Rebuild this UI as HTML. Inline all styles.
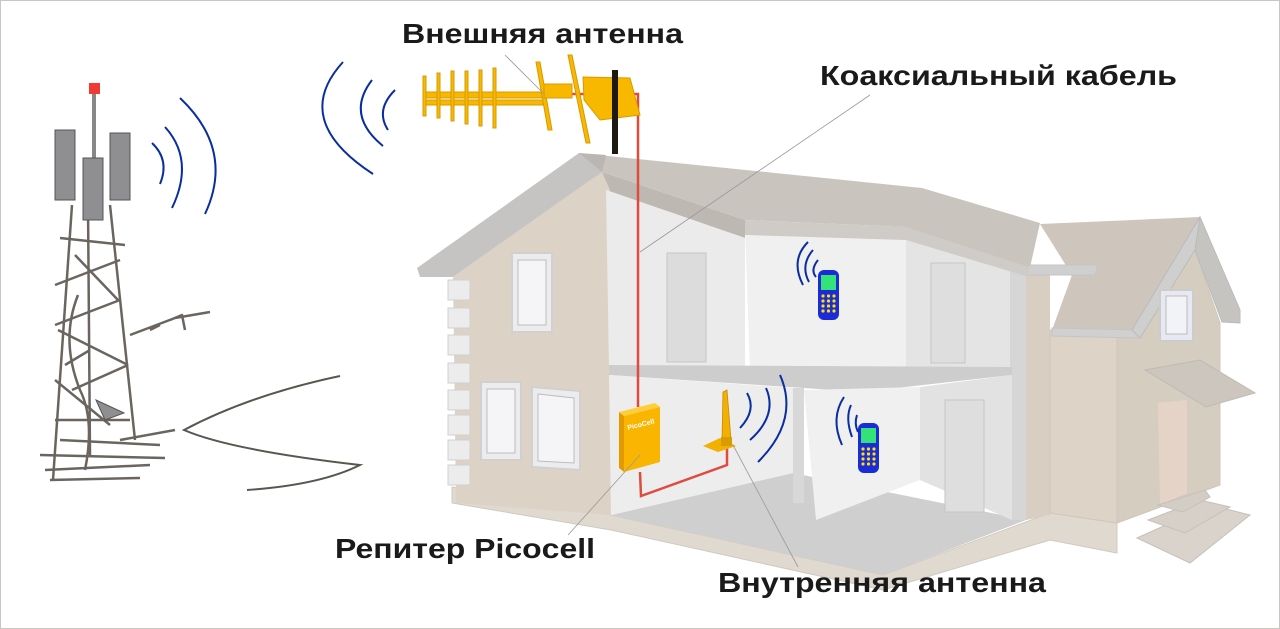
<!DOCTYPE html>
<html><head><meta charset="utf-8"><style>
html,body{margin:0;padding:0;background:#fff}
svg{display:block}
text{font-family:"Liberation Sans",Arial,sans-serif;font-weight:bold;fill:#1a1a1a}
</style></head><body>
<svg width="1280" height="629" viewBox="0 0 1280 629" xmlns="http://www.w3.org/2000/svg">
<rect x="0.5" y="0.5" width="1279" height="628" fill="#fff" stroke="#c8c8c0"/>

<!-- foundation / ground -->
<polygon points="452,487 611,515 883,575 1050,513 1117,523 1117,553 1050,540 883,590 611,530 452,503" fill="#e0d9d0" stroke="#d0c9c0"/>
<!-- floor interior -->
<polygon points="611,515 793,473 1026,520 883,575" fill="#cfcfcf"/>

<!-- main roof -->
<polygon points="579,153 922,188 1040,223 1029,272 906,227 745,220 602,172" fill="#c9c4be"/>
<polygon points="579,153 602,172 745,220 745,238 606,190 579,166" fill="#bdb8b2"/>

<!-- right wing -->
<polygon points="1026,268 1050,268 1050,515 1026,520" fill="#d8cfc2"/>
<polygon points="1050,330 1117,337 1117,523 1050,513" fill="#ddd3c6" stroke="#cfc7bb"/>
<polygon points="1117,337 1140,330 1195,250 1220,323 1220,485 1117,523" fill="#d6cdc1" stroke="#cfc7bb"/>
<polygon points="1040,224 1200,217 1138,337 1052,330 1072,275" fill="#cec6bd"/>
<polygon points="1052,328 1138,330 1138,338 1052,336" fill="#d0d0d0" stroke="#c4c4c4"/>
<polygon points="1200,217 1240,310 1240,323 1222,322 1195,250" fill="#c6c4c0" stroke="#bbb"/>
<polygon points="1200,217 1195,250 1140,338 1132,330" fill="#cfcfcf" stroke="#bbb"/>
<polygon points="1028,265 1098,265 1095,275 1028,275" fill="#cfcfcf" stroke="#c4c4c4"/>
<rect x="1160" y="290" width="33" height="51" fill="#e8e8f2" stroke="#ccc" stroke-width="2"/>
<rect x="1166" y="296" width="21" height="38" fill="#f1f3f7" stroke="#bbb"/>
<polygon points="1158,403 1187,400 1187,493 1160,505" fill="#e5d3c8"/>
<polygon points="1145,370 1200,360 1255,393 1206,407" fill="#ccc6bf" stroke="#c0bab3"/>
<polygon points="1137,538 1210,505 1250,515 1190,563" fill="#d9d3cc" stroke="#c6c0b9"/>
<polygon points="1148,520 1200,500 1230,507 1185,533" fill="#d6d0c9" stroke="#c6c0b9"/>
<polygon points="1158,505 1205,490 1210,497 1183,512" fill="#d3cdc6" stroke="#c6c0b9"/>

<!-- left gable facade -->
<polygon points="453,277 602,172 610,190 611,515 456,503" fill="#dcd3c6"/>
<polygon points="579,153 602,172 453,277 420,277 417,268" fill="#c6c4c2"/>
<polygon points="579,153 606,155 602,172" fill="#bab6b2"/>
<!-- stones -->
<g fill="#ececec" stroke="#d0d0d0">
<rect x="448" y="280" width="22" height="20"/><rect x="448" y="308" width="22" height="20"/>
<rect x="448" y="335" width="22" height="20"/><rect x="448" y="363" width="22" height="20"/>
<rect x="448" y="390" width="22" height="20"/><rect x="448" y="415" width="22" height="20"/>
<rect x="448" y="440" width="22" height="20"/><rect x="448" y="465" width="22" height="20"/>
</g>
<!-- windows -->
<g fill="#ececee" stroke="#d0d0d0" stroke-width="2">
<rect x="512" y="253" width="40" height="79"/><rect x="481" y="382" width="40" height="78"/>
<path d="M532,387 L580,391 L580,470 L532,467 Z"/>
</g>
<g fill="#f5f5f7" stroke="#bdbdbd">
<rect x="518" y="260" width="28" height="65"/><rect x="487" y="389" width="28" height="64"/>
<path d="M538,394 L574,398 L574,463 L538,461 Z"/>
</g>

<!-- interior upper left room -->
<polygon points="606,190 745,238 745,372 609,368" fill="#ebebeb"/>
<rect x="667" y="253" width="39" height="109" fill="#dcdcdc" stroke="#c6c6c6"/>
<!-- upper middle -->
<polygon points="745,225 906,232 906,370 750,372" fill="#f0f0f0"/>
<!-- upper right -->
<polygon points="906,232 1012,270 1012,367 906,370" fill="#e4e4e4"/>
<rect x="931" y="263" width="34" height="100" fill="#dedede" stroke="#c6c6c6"/>
<rect x="1010" y="270" width="16" height="250" fill="#d6d6d6"/>
<!-- floor slab -->
<polygon points="609,365 1012,367 1012,375 861,392 804,388 609,375" fill="#cdcdcd"/>
<!-- lower left -->
<polygon points="609,375 793,388 793,473 611,515" fill="#ededed"/>
<!-- lower middle -->
<polygon points="804,390 920,387 920,480 816,520" fill="#f0f0f0"/>
<rect x="793" y="388" width="11" height="115" fill="#d8d8d8"/>
<!-- lower right -->
<polygon points="920,387 1012,375 1012,520 920,480" fill="#e2e2e2"/>
<rect x="945" y="400" width="39" height="112" fill="#dedede" stroke="#c6c6c6"/>

<!-- upper roof edge over rooms -->
<polygon points="745,220 906,227 1029,267 1029,277 906,240 745,235" fill="#cfcbc6"/>

<!-- red cable -->
<path d="M570,94 L638,94 L638,407 M640,472 L641,496 L727,465 L727,448" fill="none" stroke="#e04a3f" stroke-width="2.5"/>

<!-- repeater -->
<polygon points="619,412 655,403 660,407 624,416" fill="#ffcf3a"/>
<polygon points="619,412 624,416 624,472 619,468" fill="#e39a00"/>
<polygon points="624,416 660,407 660,462 624,472" fill="#f9b500"/>
<text x="628" y="430" font-size="7" style="fill:#fff" transform="rotate(-14 628 430)">PicoCell</text>
<!-- indoor antenna -->
<polygon points="703,446 720,438 736,446 718,452" fill="#f2b000"/>
<polygon points="723,392 727,390 731,440 722,440" fill="#f2b000" stroke="#c88a00" stroke-width="0.8"/>
<rect x="721" y="437" width="11" height="9" fill="#d99c00"/>

<!-- phones -->
<g>
<rect x="818" y="270" width="21" height="50" rx="6" fill="#1b2bd8"/>
<rect x="821" y="275" width="15" height="15" fill="#34e27a"/>
<g fill="#ffe000"><circle cx="823" cy="296" r="1.6"/><circle cx="828.5" cy="296" r="1.6"/><circle cx="834" cy="296" r="1.6"/><circle cx="823" cy="301" r="1.6"/><circle cx="828.5" cy="301" r="1.6"/><circle cx="834" cy="301" r="1.6"/><circle cx="823" cy="306" r="1.6"/><circle cx="828.5" cy="306" r="1.6"/><circle cx="834" cy="306" r="1.6"/><circle cx="823" cy="311" r="1.6"/><circle cx="828.5" cy="311" r="1.6"/><circle cx="834" cy="311" r="1.6"/></g>
</g>
<g transform="translate(40,153)">
<rect x="818" y="270" width="21" height="50" rx="6" fill="#1b2bd8"/>
<rect x="821" y="275" width="15" height="15" fill="#34e27a"/>
<g fill="#ffe000"><circle cx="823" cy="296" r="1.6"/><circle cx="828.5" cy="296" r="1.6"/><circle cx="834" cy="296" r="1.6"/><circle cx="823" cy="301" r="1.6"/><circle cx="828.5" cy="301" r="1.6"/><circle cx="834" cy="301" r="1.6"/><circle cx="823" cy="306" r="1.6"/><circle cx="828.5" cy="306" r="1.6"/><circle cx="834" cy="306" r="1.6"/><circle cx="823" cy="311" r="1.6"/><circle cx="828.5" cy="311" r="1.6"/><circle cx="834" cy="311" r="1.6"/></g>
</g>

<!-- signal arcs -->
<g fill="none" stroke="#0a2ea0" stroke-width="2">
<path d="M152,143 Q170,160 160,184"/>
<path d="M165,127 Q195,160 172,208"/>
<path d="M180,98 Q235,150 205,214"/>
<path d="M395,90 Q375,110 388,130"/>
<path d="M372,80 Q345,115 383,146"/>
<path d="M343,62 Q290,120 373,174"/>
<path d="M808,242 Q790,260 803,285"/>
<path d="M813,250 Q800,265 809,282"/>
<path d="M818,260 Q810,270 816,277"/>
<path d="M844,397 Q830,418 842,445"/>
<path d="M851,405 Q845,418 852,437"/>
<path d="M857,415 Q854,424 858,432"/>
<path d="M747,393 Q757,410 740,428"/>
<path d="M766,388 Q778,415 750,440"/>
<path d="M780,375 Q800,420 758,462"/>
</g>

<!-- tower -->
<g fill="none" stroke="#6a665f" stroke-width="2.5" stroke-linejoin="round">
<line x1="94" y1="92" x2="94" y2="160" stroke="#888" stroke-width="4"/>
<path d="M72,205 L53,480 M110,205 L135,440 M88,205 L90,455"/>
<path d="M60,238 L125,245 M55,285 L120,260 M75,255 L118,300 M55,325 L120,300 M58,330 L128,365 M65,365 L90,350 M72,390 L128,365 M55,380 L110,425 M55,420 L130,420 M60,440 L160,445 M40,455 L165,458 M45,470 L150,465 M50,480 L140,478 M120,440 L175,430"/>
<path d="M78,295 Q60,340 80,390 Q95,420 85,470"/>
<path d="M130,335 L175,318 L210,312 M150,330 L160,325 M170,320 L182,315 L185,330"/>
</g>
<polygon points="96,400 124,413 105,420" fill="#8f8f92" stroke="#555"/>
<rect x="55" y="130" width="20" height="70" fill="#8f8f92" stroke="#555"/>
<rect x="110" y="133" width="20" height="67" fill="#8f8f92" stroke="#555"/>
<rect x="83" y="158" width="20" height="62" fill="#8f8f92" stroke="#555"/>
<rect x="89" y="83" width="11" height="11" fill="#f03a33"/>
<path d="M340,376 Q250,395 184,430 Q230,450 360,465 Q320,485 247,490" fill="none" stroke="#5a564f" stroke-width="2"/>

<!-- outdoor antenna -->
<g stroke="#d79a00" stroke-width="1" fill="#f9b800">
<rect x="423" y="92" width="120" height="6"/>
<rect x="423" y="100" width="120" height="5"/>
<rect x="423" y="76" width="3" height="40"/><rect x="437" y="73" width="3" height="45"/>
<rect x="451" y="71" width="3" height="50"/><rect x="465" y="71" width="3" height="53"/>
<rect x="479" y="70" width="3" height="56"/><rect x="493" y="68" width="3" height="60"/>
<polygon points="536,62 540,62 552,130 548,130"/>
<polygon points="568,55 572,55 590,143 586,143"/>
<rect x="544" y="84" width="28" height="14"/>
<polygon points="583,77 630,78 640,115 600,120 584,100"/>
</g>
<rect x="612" y="70" width="6" height="84" fill="#1e1a10"/>

<!-- leader lines -->
<g stroke="#999" stroke-width="0.8" fill="none">
<line x1="505" y1="55" x2="545" y2="95"/>
<line x1="640" y1="252" x2="870" y2="95"/>
<line x1="568" y1="535" x2="640" y2="455"/>
<line x1="798" y1="567" x2="733" y2="445"/>
</g>

<!-- labels -->
<text x="402" y="43" font-size="28" textLength="281" lengthAdjust="spacingAndGlyphs">Внешняя антенна</text>
<text x="820" y="85" font-size="28" textLength="357" lengthAdjust="spacingAndGlyphs">Коаксиальный кабель</text>
<text x="335" y="558" font-size="28" textLength="260" lengthAdjust="spacingAndGlyphs">Репитер Picocell</text>
<text x="718" y="592" font-size="28" textLength="328" lengthAdjust="spacingAndGlyphs">Внутренняя антенна</text>
</svg>
</body></html>
